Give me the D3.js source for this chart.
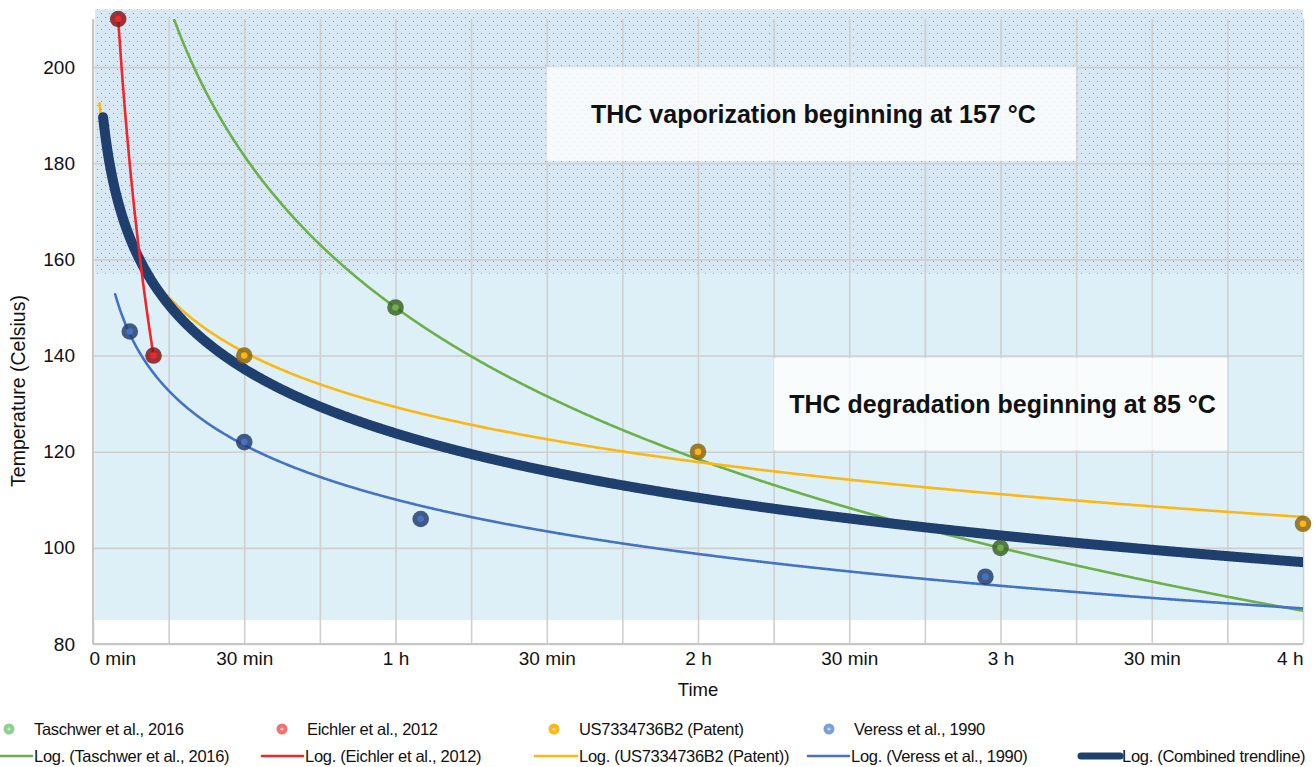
<!DOCTYPE html>
<html>
<head>
<meta charset="utf-8">
<script src="https://cdn.jsdelivr.net/npm/d3@7"></script>
<style>
  body { margin: 0; background: #fff; }
  text { font-family: "Liberation Sans", Arial, sans-serif; fill: #111; }
</style>
</head>
<body>
<script>
const w = 1315;
const h = 767;

// data points (time in minutes, temperature in °C)
const taschwerT = [60, 180];
const taschwerV = [150, 100];
const eichlerT = [5, 12];
const eichlerV = [210, 140];
const patentT = [30, 120, 240];
const patentV = [140, 120, 105];
const veressT = [7.3, 30, 65, 177];
const veressV = [145, 122, 106, 94];
// combined trendline, values
const combinedT = [2, 5, 9.3, 30, 60, 120, 180, 240];
const combinedV = [189, 172, 159.7, 138.6, 123.6, 111, 102, 96.5];

const yTicks = [80, 100, 120, 140, 160, 180, 200];
const xTicks = [0, 30, 60, 90, 120, 150, 180, 210, 240];
const xLabels = ["0 min", "30 min", "1 h", "30 min", "2 h", "30 min", "3 h", "30 min", "4 h"];

const green = "#6cb04a", red = "#f0262a", yellow = "#fcb713", blue = "#4472c4", navy = "#1f3f6f";

let svg = d3.select("body")
            .append("svg")
            .attr("width", w)
            .attr("height", h);

let x = d3.scaleLinear().domain([0, 240]).range([93, 1303]);
let y = d3.scaleLinear().domain([80, 210]).range([644, 19]);

// log trendline fit: v = a + b ln(t)
function logFit(ts, vs) {
  const lx = ts.map(Math.log);
  const mx = d3.mean(lx), my = d3.mean(vs);
  let sxy = 0, sxx = 0;
  lx.forEach((l, i) => { sxy += (l - mx) * (vs[i] - my); sxx += (l - mx) * (l - mx); });
  const b = sxy / sxx, a = my - b * mx;
  return t => a + b * Math.log(t);
}

// background bands
let defs = svg.append("defs");
let pat = defs.append("pattern")
   .attr("id", "dots")
   .attr("patternUnits", "userSpaceOnUse")
   .attr("width", 8).attr("height", 8);
pat.append("rect").attr("width", 8).attr("height", 8).attr("fill", "#d7e8f4");
pat.append("rect").attr("x", 1).attr("y", 1).attr("width", 1).attr("height", 1).attr("fill", "#ff4d4d").attr("opacity", 0.8);
pat.append("rect").attr("x", 5).attr("y", 5).attr("width", 1).attr("height", 1).attr("fill", "#ff4d4d").attr("opacity", 0.8);

defs.append("clipPath").attr("id", "plot")
   .append("rect").attr("x", x(0)).attr("y", y(210)).attr("width", x(240) - x(0)).attr("height", y(80) - y(210));

svg.append("rect")
   .attr("x", x(0) + 2).attr("y", y(157))
   .attr("width", x(240) - x(0) - 2).attr("height", y(85) - y(157))
   .attr("fill", "#ddf0f7");
svg.append("rect")
   .attr("x", x(0) + 2).attr("y", y(212))
   .attr("width", x(240) - x(0) - 2).attr("height", y(157) - y(212))
   .attr("fill", "url(#dots)");

// gridlines
svg.append("g")
   .attr("transform", `translate(0,${y(80)})`)
   .call(d3.axisBottom(x).tickValues(d3.range(0, 241, 15)).tickSize(-(y(80) - y(210))).tickFormat(""))
   .call(g => g.select(".domain").remove())
   .call(g => g.selectAll("line").attr("stroke", "#cfcfcf").attr("stroke-width", 1.6));
svg.append("g")
   .attr("transform", `translate(${x(0)},0)`)
   .call(d3.axisLeft(y).tickValues(yTicks).tickSize(-(x(240) - x(0))).tickFormat(""))
   .call(g => g.select(".domain").remove())
   .call(g => g.selectAll("line").attr("stroke", "#cfcfcf").attr("stroke-width", 1.6));

// axis lines
svg.append("line").attr("x1", x(0)).attr("x2", x(0)).attr("y1", y(210)).attr("y2", y(80))
   .attr("stroke", "#c6c6c6").attr("stroke-width", 2);
svg.append("line").attr("x1", x(0)).attr("x2", x(240)).attr("y1", y(80)).attr("y2", y(80))
   .attr("stroke", "#c6c6c6").attr("stroke-width", 2);

// annotation boxes
function note(t0, t1, v0, v1, label) {
  svg.append("rect")
     .attr("x", x(t0)).attr("y", y(v0))
     .attr("width", x(t1) - x(t0)).attr("height", y(v1) - y(v0))
     .attr("fill", "#ffffff").attr("opacity", 0.78);
  svg.append("text")
     .attr("x", (x(t0) + x(t1)) / 2 + 2).attr("y", (y(v0) + y(v1)) / 2)
     .attr("dy", "0.35em")
     .attr("text-anchor", "middle")
     .style("font-size", "25px").style("font-weight", "bold")
     .text(label);
}
note(90, 195, 200, 180.5, "THC vaporization beginning at 157 °C");
note(135, 225, 139.5, 120.3, "THC degradation beginning at 85 °C");

// tick labels
svg.append("g")
   .attr("transform", `translate(${x(0) - 18},0)`)
   .call(d3.axisLeft(y).tickValues(yTicks).tickSize(0).tickPadding(0))
   .call(g => g.select(".domain").remove())
   .call(g => g.selectAll("text").style("font-size", "19px").attr("fill", "#111"));

svg.append("g")
   .attr("transform", `translate(0,${y(80) + 7})`)
   .call(d3.axisBottom(x).tickValues(xTicks).tickSize(0).tickPadding(0).tickFormat((d, i) => xLabels[i]))
   .call(g => g.select(".domain").remove())
   .call(g => g.selectAll("text").style("font-size", "19px").attr("fill", "#111"))
   .call(g => g.selectAll("text").filter(d => d === 0).attr("text-anchor", "start").attr("x", -4))
   .call(g => g.selectAll("text").filter(d => d === 240).attr("text-anchor", "end").attr("x", 0));

svg.append("text")
   .attr("x", (x(0) + x(240)) / 2).attr("y", 696)
   .attr("text-anchor", "middle")
   .style("font-size", "18.5px")
   .text("Time");
svg.append("text")
   .attr("transform", `translate(25,391) rotate(-90)`)
   .attr("text-anchor", "middle")
   .style("font-size", "19.5px")
   .text("Temperature (Celsius)");

// trendlines
let line = d3.line().x(d => x(d[0])).y(d => y(d[1])).curve(d3.curveMonotoneX);
function trend(ts, vs, from, to, color, width) {
  const f = logFit(ts, vs);
  const pts = d3.range(from, to, 0.25).concat([to]).map(t => [t, f(t)]);
  svg.append("path")
     .attr("clip-path", "url(#plot)")
     .attr("d", line(pts))
     .attr("fill", "none")
     .attr("stroke", color)
     .attr("stroke-width", width)
     .attr("stroke-linecap", "round");
}
trend(taschwerT, taschwerV, 10, 240, green, 2.6);
trend(patentT, patentV, 1.3, 240, yellow, 2.6);
trend(veressT, veressV, 4.4, 240, blue, 2.6);
trend(combinedT, combinedV, 2.0, 240, navy, 10);
trend(eichlerT, eichlerV, 5, 12, red, 2.6);

// data points
function points(ts, vs, color) {
  let g = svg.append("g");
  g.selectAll("circle.outer")
   .data(ts).enter().append("circle")
   .attr("class", "outer")
   .attr("cx", d => x(d)).attr("cy", (d, i) => y(vs[i]))
   .attr("r", 8.3)
   .attr("fill", d3.color(color).darker(1.6))
   .attr("opacity", 0.85);
  g.selectAll("circle.inner")
   .data(ts).enter().append("circle")
   .attr("class", "inner")
   .attr("cx", d => x(d)).attr("cy", (d, i) => y(vs[i]))
   .attr("r", 3.3)
   .attr("fill", color);
}
points(taschwerT, taschwerV, green);
points(eichlerT, eichlerV, red);
points(patentT, patentV, yellow);
points(veressT, veressV, blue);

// legend
const legendDots = [
  { x: 9, label: "Taschwer et al., 2016", color: "#8fd08a" },
  { x: 282, label: "Eichler et al., 2012", color: "#f07272" },
  { x: 554, label: "US7334736B2 (Patent)", color: "#fbb816" },
  { x: 829, label: "Veress et al., 1990", color: "#7d9fd8" }
];
const legendLines = [
  { x0: 0, x1: 32, label: "Log. (Taschwer et al., 2016)", color: green, width: 2.6 },
  { x0: 262, x1: 303, label: "Log. (Eichler et al., 2012)", color: red, width: 2.6 },
  { x0: 535, x1: 577, label: "Log. (US7334736B2 (Patent))", color: yellow, width: 2.6 },
  { x0: 808, x1: 849, label: "Log. (Veress et al., 1990)", color: blue, width: 2.6 },
  { x0: 1081, x1: 1120, label: "Log. (Combined trendline)", color: navy, width: 7 }
];
let lg = svg.append("g").style("font-size", "16.5px");
legendDots.forEach(d => {
  lg.append("circle").attr("cx", d.x).attr("cy", 729).attr("r", 5.5).attr("fill", d.color);
  lg.append("circle").attr("cx", d.x).attr("cy", 729).attr("r", 1.6).attr("fill", "#fff").attr("opacity", 0.6);
  lg.append("text").attr("x", d.x + 25).attr("y", 729).attr("dy", "0.35em").style("letter-spacing", "-0.3px").text(d.label);
});
legendLines.forEach(d => {
  lg.append("line").attr("x1", d.x0).attr("x2", d.x1).attr("y1", 756).attr("y2", 756)
    .attr("stroke", d.color).attr("stroke-width", d.width).attr("stroke-linecap", "round");
  lg.append("text").attr("x", d.x1 + 2).attr("y", 756).attr("dy", "0.35em").style("letter-spacing", "-0.3px").text(d.label);
});
</script>
</body>
</html>
